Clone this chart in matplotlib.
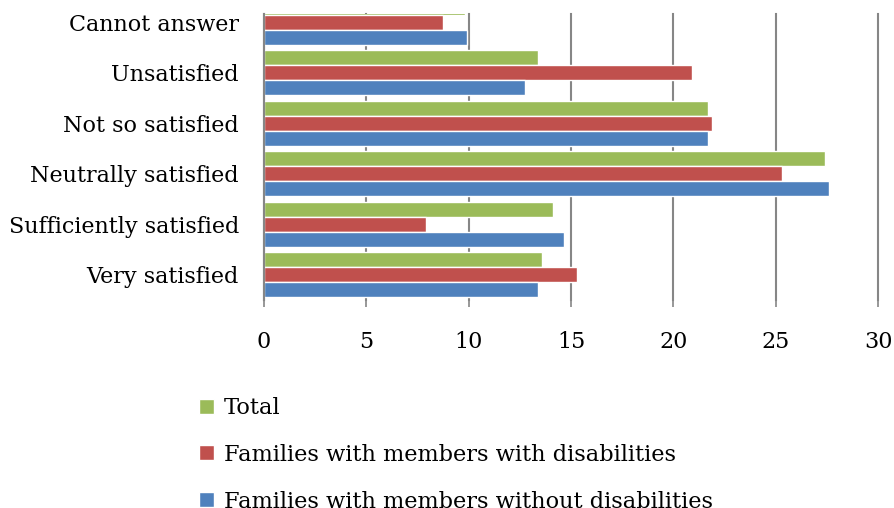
import numpy as np
import matplotlib
matplotlib.use('Agg')
import matplotlib.pyplot as plt
from matplotlib.patches import Patch

# Survey answers, bottom to top as they appear on the chart
categorias = ['Very satisfied', 'Sufficiently satisfied', 'Neutrally satisfied',
              'Not so satisfied', 'Unsatisfied', 'Cannot answer']

total = [13.6, 14.1, 27.4, 21.7, 13.4, 9.8]
con_discapacidad = [15.3, 7.9, 25.3, 21.9, 20.9, 8.75]
sin_discapacidad = [13.4, 14.65, 27.6, 21.7, 12.75, 9.9]

series = ['Total', 'Families with members with disabilities',
          'Families with members without disabilities']
colores = ['#9BBB59', '#C0504D', '#4F81BD']

plt.rcParams['font.family'] = 'DejaVu Serif'

fig = plt.figure(figsize=(8.94, 5.08), dpi=100)
ax = fig.add_axes([264 / 894, 1 - 300 / 508, (878 - 264) / 894, 286 / 508])

y = np.arange(len(categorias))
alto = 0.296
for off, vals, col in zip([alto, 0, -alto], [total, con_discapacidad, sin_discapacidad], colores):
    ax.barh(y + off, vals, height=alto, color=col, edgecolor='white', linewidth=1.0, zorder=3)

ax.set_xlim(0, 30)
ax.set_ylim(-0.5, 5.16)
ax.set_xticks(range(0, 31, 5))
ax.set_yticks(y)
ax.set_yticklabels(categorias)

ax.grid(axis='x', color='#868686', linewidth=1.5, zorder=0)
for g in ax.get_xgridlines():
    g.set_clip_on(False)
for s in ['top', 'right', 'bottom']:
    ax.spines[s].set_visible(False)
ax.spines['left'].set_color('#868686')
ax.spines['left'].set_linewidth(1.5)
ax.spines['left'].set_zorder(4)

ax.tick_params(axis='x', length=5, width=1.2, color='#868686', pad=17, labelsize=16)
ax.tick_params(axis='y', length=0, pad=18, labelsize=16)

handles = [Patch(facecolor=c, edgecolor='white') for c in colores]
fig.legend(handles, series, loc='upper left', bbox_to_anchor=(199 / 894, 1 - 397 / 508),
           frameon=False, fontsize=16.2, labelspacing=1.1, handlelength=0.65,
           handleheight=0.65, handletextpad=0.45, borderaxespad=0, borderpad=0)

plt.savefig('out.png', dpi=100)
